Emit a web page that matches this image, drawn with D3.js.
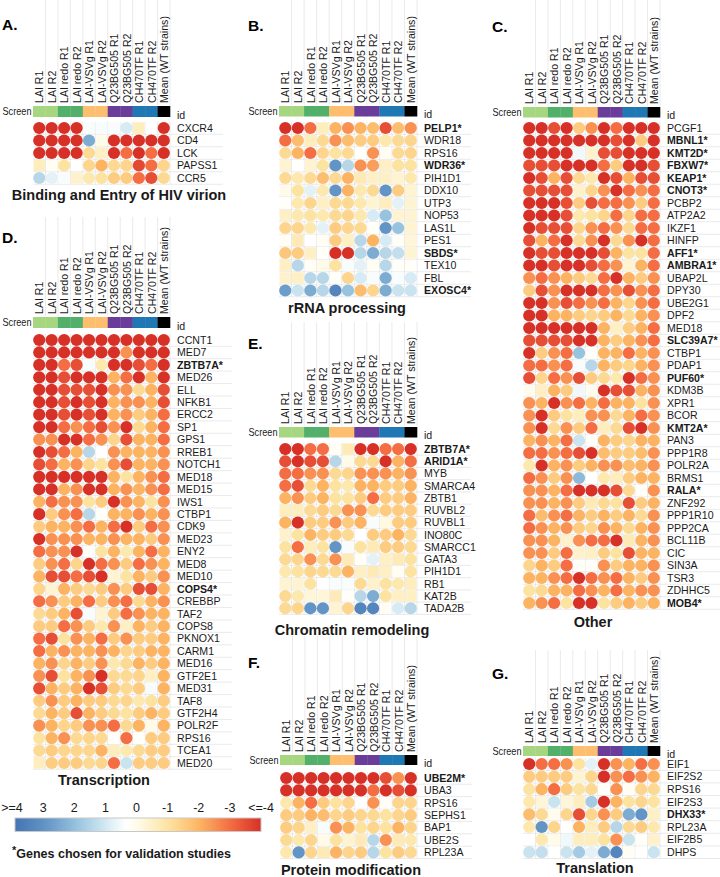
<!DOCTYPE html>
<html>
<head>
<meta charset="utf-8">
<script src="https://cdn.jsdelivr.net/npm/d3@7"></script>
<style>
  body { margin: 0; background: #fff; }
  svg { font-family: "Liberation Sans", Arial, Helvetica, sans-serif; }
</style>
</head>
<body>
<svg id="chart" width="720" height="877"></svg>
<script>
// screens (columns) and their group colours
const columns = ["LAI R1", "LAI R2", "LAI redo R1", "LAI redo R2", "LAI-VSVg R1", "LAI-VSVg R2",
  "Q23BG505 R1", "Q23BG505 R2", "CH470TF R1", "CH470TF R2", "Mean (WT strains)"];
const screenColors = ["#a6d67f", "#a6d67f", "#52b06a", "#52b06a", "#fdbf6f", "#fdbf6f",
  "#6a3d9a", "#6a3d9a", "#1f78b4", "#1f78b4", "#000000"];

// A. Binding and Entry of HIV virion
const genesA = ["CXCR4", "CD4", "LCK", "PAPSS1", "CCR5"];
const valuesA = [
  [-4, -4, -4, -4, 0.5, 0.5, 0.5, 1, -0.6, 0.4, -4],
  [-4, -4, -4, -4, 2.5, 0, -4, -4, -4, -4, -4],
  [-4, -4, -4, -4, -1.2, -0.5, -4, -3, -4, -3, -4],
  [-0.6, 0.2, -1, 0.4, -1.3, -2, -1.2, -1.3, -3.6, -3, -1.3],
  [1.5, 0.8, 0.5, -0.4, -0.8, -1, -1.5, -1.5, -3, -3.5, -1.2]
];

// B. rRNA processing
const genesB = ["PELP1*", "WDR18", "RPS16", "WDR36*", "PIH1D1", "DDX10", "UTP3", "NOP53",
  "LAS1L", "PES1", "SBDS*", "TEX10", "FBL", "EXOSC4*"];
const valuesB = [
  [-4, -4, -3, -0.6, -2, -2.5, -2, -1.8, -3.5, -1.8, -2.5],
  [-3, -1.8, -0.6, -1.2, -2.5, -1.8, -1.5, -1.5, -0.8, -1.2, -1.3],
  [-1.2, -2, -3, -1.3, -1, -1.2, 0.3, -2.5, 0.2, -1.2, -1.3],
  [-0.3, 0.4, -0.3, -1, 3, 1.5, -2.5, -2.3, -0.5, -1, -1],
  [-1.2, -0.8, -1.2, -1.8, -1.2, -2, -0.7, -0.5, -0.5, -0.3, -0.8],
  [0, -1, 0.8, -0.8, 3, -2, -0.8, -1.2, 3, -1.5, -0.3],
  [0.3, -0.8, -1.3, -0.5, -1.2, -1.2, -0.8, -0.3, -0.6, 0.8, -0.3],
  [-0.5, -0.8, -1, -0.8, -1.2, -1.3, -0.8, 1, 2, -0.3, -0.3],
  [-1.3, -1.3, -0.8, 0.8, -1.5, -1.3, -1.2, 0.3, 3, 2, -0.3],
  [0.2, -0.7, 0.4, 0.2, -1.5, -0.5, 1.5, -2, 1, 0.3, -0.2],
  [-1.6, -1.5, -0.5, 0.3, -4, -4, 1.5, 2.5, 1.5, 1.3, -0.3],
  [-0.5, 1.5, 0.2, 0, -1, 0.5, 0.8, 0.2, 1.5, 0.3, 0.3],
  [-0.4, -0.5, 1.5, 1.5, 0.3, -1.3, 1, 0.5, 2.5, 0.5, 1],
  [2.8, 1.2, 2.5, 1.5, 3.5, 2, -1.8, -1.3, 2.5, 1.2, 1.2]
];

// C. Other
const genesC = ["PCGF1", "MBNL1*", "KMT2D*", "FBXW7*", "KEAP1*", "CNOT3*", "PCBP2", "ATP2A2",
  "IKZF1", "HINFP", "AFF1*", "AMBRA1*", "UBAP2L", "DPY30", "UBE2G1", "DPF2", "MED18",
  "SLC39A7*", "CTBP1", "PDAP1", "PUF60*", "KDM3B", "XPR1", "BCOR", "KMT2A*", "PAN3",
  "PPP1R8", "POLR2A", "BRMS1", "RALA*", "ZNF292", "PPP1R10", "PPP2CA", "BCL11B", "CIC",
  "SIN3A", "TSR3", "ZDHHC5", "MOB4*"];
const valuesC = [
  [-4, -4, -3.5, -4, -1.5, -2.5, -4, -3, -4, -4, -4],
  [-4, -4, -4, -4, -4, -4, -4, -3.5, -4, -1.5, -4],
  [-4, -4, -4, -4, 0.6, -0.4, -3.5, -3.5, -4, -4, -4],
  [-3.5, -3.5, -3.5, -4, -4, -4, -3, -1.5, -4, -4, -3.5],
  [-4, -3.5, -2, -3.5, -1.2, -0.8, -4, -3.5, -2, -3.5, -3.5],
  [-3.5, -3.5, -3.5, -3.5, -0.4, -1.3, -2.5, -4, -3, -2.5, -3],
  [-4, -4, -4, -3.5, -1.5, -3.5, -3, -3, -2.5, -1.5, -3],
  [-4, -4, -4, -3.5, -0.8, -1, -1.3, -3, -1.3, -3, -3],
  [-4, -3.5, -3.5, -3.5, -1.3, -2.5, -3, -2.5, -1.2, -3, -3],
  [-3.5, -2, -3, -4, -1.2, -2.5, -4, -1.2, -2.5, -4, -3],
  [-4, -3.5, -3.5, -4, -4, -4, -3.5, -2, -1, -1, -3],
  [-4, -4, -3.5, -4, -4, -3.5, -3, -2.5, -0.3, -2, -3],
  [-2.5, -3, -2.5, -2, -1.5, -1.2, -3, -4, -2, -1.5, -2.5],
  [-1.5, -3.5, -2.5, -4, -4, -4, -3, -2.5, -3.5, -2.5, -3],
  [-4, -4, -2.5, -3.5, -3, -2.5, -3, -2, -1.3, -2.5, -3],
  [-4, -4, -2, -2, -1.5, -1.3, -1.5, -2, -1.2, -2, -2.5],
  [-4, -4, -4, -4, -4, -4, -2, -0.5, -1.5, -2, -3],
  [-3.5, -3.5, -3.5, -3.5, -4, -4, -2, -1.5, -2, -2.5, -3],
  [-4, -1.5, -2.5, -3, 2, 0.3, -2, -2, -3, -2, -2.5],
  [-3, -3, -2.5, -3, 0.5, 1.5, -2, -1.5, -1.3, -2, -2.5],
  [-3.5, -1.3, -3, -2.5, -3.5, -1.5, -1.2, -0.8, -4, -3, -2.5],
  [0.1, -0.5, -2, -1.5, 0.6, 0.1, -4, -3.5, -3.5, -2, -2.5],
  [-2.5, -2, -4, -2.5, -3, -2, -3, -2, -2, -1, -2.5],
  [-2.5, -4, -1.5, -1, -0.6, -2.5, -2.5, -1.2, -2, -3, -2.5],
  [-2.5, -4, -1.2, -2.5, -1.5, -3, -0.6, -1.2, -3.5, -4, -2.5],
  [-2, -2.5, -2, -3, 1.2, 0.3, -2, -1.5, -1.3, -2, -2],
  [-3, -3, -2.5, -3, -3.5, -4, -1.8, -1.5, -1.5, -1.8, -2.5],
  [-0.8, -4, -2, -2.5, -1.5, -2, -2.5, -2.5, -1.8, -2, -2.5],
  [-3, -2.5, -1.5, -2.5, 2.2, 0.4, -0.8, -0.6, -1.5, -2, -2],
  [-2.5, -2.5, -2, -3, -4, -4, -4, -3.5, -1.2, 0.3, -2.5],
  [-2.5, -2.5, -2, -2.5, -1.5, -0.7, -1.2, -1, -3.5, -1.5, -2],
  [-3, -1.8, -2.5, -3, -2, -1.5, -2, -1.5, -2, -1.2, -2.5],
  [-3, -2.5, -2, -2.5, -1.5, -1.3, -2.5, -2, -1.2, -2, -2.5],
  [-2.5, -2.5, -2, -0.4, -2.5, -3, -3, -4, -0.7, -2, -2.5],
  [-2.5, -2.5, -1.5, -3, -0.4, -0.5, -1.5, -1, -3.5, -2, -2],
  [-1.3, -2, -1.5, -3, 0.3, 0.3, -2.5, -1.5, -2, -2, -2.5],
  [-2, -2, -2.5, -3, -4, -3, -2.5, -3, -2, -1.5, -2.5],
  [-1, -1.2, -2, -2, -3, -2.5, -2, -3, -2, -2.5, -2.5],
  [-2, -2.5, -3, -1, -4, -4, -1, -1.5, -2, -1.5, -2]
];

// D. Transcription
const genesD = ["CCNT1", "MED7", "ZBTB7A*", "MED26", "ELL", "NFKB1", "ERCC2", "SP1", "GPS1",
  "RREB1", "NOTCH1", "MED18", "MED15", "IWS1", "CTBP1", "CDK9", "MED23", "ENY2", "MED8",
  "MED10", "COPS4*", "CREBBP", "TAF2", "COPS8", "PKNOX1", "CARM1", "MED16", "GTF2E1",
  "MED31", "TAF8", "GTF2H4", "POLR2F", "RPS16", "TCEA1", "MED20"];
const valuesD = [
  [-4, -4, -4, -4, -4, -4, -4, -4, -4, -4, -4],
  [-4, -4, -4, -4, -4, -4, -4, -2.5, -4, -4, -4],
  [-4, -4, -3, -3.5, 0.5, -0.8, -4, -4, -3.5, -3, -4],
  [-4, -4, -3.5, -4, -4, -4, -2, -3, -4, -2, -4],
  [-4, -4, -3.5, -3.5, -3.5, -4, -2.5, -2.5, -1.2, -2, -3.5],
  [-4, -4, -3.5, -4, -3.5, -4, -2, -2.5, -2.5, -2, -3.5],
  [-4, -4, -3.5, -4, -3.5, -4, -2, -2.5, -1.5, -2, -3],
  [-4, -4, -3, -2.5, -3, -3.5, -2.5, -4, -1.2, -2, -3],
  [-2.5, -2.5, -4, -4, -3, -2.5, -1.3, -3.5, -2, -2, -3],
  [-4, -3.5, -3, -2, 1.5, 0.4, -2.5, -2, -2, -2, -2.5],
  [-3.5, -3, -2, -2.5, -1.3, -1, -2.5, -3.5, -2, -2, -2.5],
  [-4, -4, -4, -4, -4, -4, -2, -1, -2, -2.5, -3],
  [-4, -4, -2, -2.5, -4, -4, -2, -2.5, -2, -2.5, -3],
  [-2, -3, -2.5, -2.5, -1, -1.5, -4, -2.5, -2, -1, -2.5],
  [-4, -1.5, -2.5, -3, 1.5, 0.3, -2, -2, -2.5, -2, -2.5],
  [-1.5, -2, -2, -2.5, -3, -2, -3, -4, -1.5, -3, -2.5],
  [-4, -2.5, -2.5, -2.5, -2, -2, -2.5, -2, -2, -1.5, -2.5],
  [-3, -2.5, -2.5, -4, 0.3, -1, -2, -0.8, -2, -3, -2],
  [-1.5, -2.5, -3, -1.3, -4, -3, -2.5, -1.5, -3, -2.5, -2],
  [-2, -3.5, -3.5, -3, -3.5, -4, -0.3, -1, -2, -1.5, -2.5],
  [-1.3, -0.3, -2, -1.5, -1.2, -1.5, -2.5, -1.5, -3.5, -3.5, -2],
  [-3, -2.5, -1.5, -2, -3, -1.5, -2.5, -3, -1.2, -2, -2.5],
  [-1.2, -1.5, -2, -3.5, 0.5, -0.3, -1.5, -3, -2.5, -2, -2],
  [-1.5, -1.5, -3, -2.5, -1.5, -0.8, -2.5, -0.5, -2, -1.5, -2],
  [-3, -3.5, -1, -2.5, -2, -3, -1.5, -2.5, -1.5, -1.5, -2],
  [-3, -2, -2.5, -2, -2, -2.5, -2, -1.3, -1.5, -2, -2],
  [-2, -2.5, -1.3, -2, -1.5, -2.5, -0.8, -1.2, -2, -1.5, -2],
  [-2.5, -3.5, -1, -2, -2.5, -4, -1.2, -1.2, -1.3, -0.5, -2],
  [-3.5, -2, -1.5, -2, -4, -3.5, -1.5, -1.2, -1.5, 0.5, -2],
  [-1.5, -2.5, -1.5, -2, -1.5, -1.5, -1.2, -1.3, -0.8, -1, -1.5],
  [-1.2, -2, -1.5, -3.5, -2, -1.5, -1.2, -1, -1.5, -2, -1.5],
  [-2.5, -2, -1.3, -1.5, -2.5, -2.5, -3, -1.2, -2, 0, -2],
  [-1, -2, -2.5, -1.2, -1.3, -1.2, 0.3, -3, 0.3, -1.5, -1.5],
  [-1.2, -1.5, -1.3, -1.3, -1.3, -2, -0.6, -0.8, -1.2, -1.5, -1.5],
  [-0.6, -1.5, -1.5, -1.5, -1.2, -1.3, -3, 1.2, -1.5, -1.5, -1.5]
];

// E. Chromatin remodeling
const genesE = ["ZBTB7A*", "ARID1A*", "MYB", "SMARCA4", "ZBTB1", "RUVBL2", "RUVBL1", "INO80C",
  "SMARCC1", "GATA3", "PIH1D1", "RB1", "KAT2B", "TADA2B"];
const valuesE = [
  [-4, -4, -3, -3, 0.2, -0.7, -4, -4, -3, -3, -4],
  [-3.5, -4, -3.5, -3.5, 1.5, 0, -1.2, -1.2, -4, -2, -3],
  [-3, -3, -2.5, -2.5, -1.2, -1.3, -2.5, -2.5, -2.5, -2, -2.5],
  [-3, -3.5, -1.2, -2, -1, -0.8, -2, -2, -1.5, -1.5, -2],
  [-2, -2.5, -1.5, -2, -1, -1, -1.5, -3, -1.5, -1.5, -2],
  [-0.6, -0.6, -1.2, -1.5, -1.2, -2.5, -2.5, -1.2, -1.5, -1.5, -1.5],
  [-2, -4, -1.5, -1.5, -2.5, -1.5, -2, 0.5, -0.1, -1.5, -1.5],
  [-0.4, -1, -2, -1.5, -1.5, -1.2, 0.4, -1.5, -1.5, -2, -1.2],
  [-1, -3, -0.6, -1, 3, 0.5, -1, -0.7, -1.5, -1.5, -1.2],
  [-1.2, -1.3, -2.5, -1.2, -2.5, -0.7, 0.3, 0.8, -0.5, -0.7, -1],
  [-0.8, -1, -1.3, -1.2, -1.2, -2, -0.5, -0.7, -0.5, 0.2, -1],
  [-0.3, -0.3, -1, 0.4, 0.5, 0.5, -1.2, -0.4, -1, -0.8, -0.6],
  [-1.2, -0.8, -0.2, -0.2, -0.7, 0.3, 1.5, 2.5, -1, -0.5, -0.5],
  [-1.2, -1.3, 3, 3, -0.3, -1.3, 3.5, 3.5, 0.2, 1, 1.5]
];

// F. Protein modification
const genesF = ["UBE2M*", "UBA3", "RPS16", "SEPHS1", "BAP1", "UBE2S", "RPL23A"];
const valuesF = [
  [-4, -4, -4, -4, -4, -4, -4, -4, -3.5, -2.5, -4],
  [-4, -4, -4, -4, -4, -4, -4, -3, -4, -3.5, -4],
  [-0.8, -2, -3, -1.5, -1, -1.3, 0.4, -2.5, 0.3, -1.3, -1.3],
  [-1.5, -1.5, -2, -1.8, -1.3, -1.5, -1.3, -1.2, -1, -1.3, -1.5],
  [-1.5, -1.3, -0.5, 0.5, -2.5, -2, -1, -1.3, -1, -2, -1.3],
  [-1.2, -0.8, -1.3, 0, -1, -0.3, -0.7, 1.5, -2.5, -0.7, -0.8],
  [-0.8, 3, -1.3, -0.7, -2, -1.3, -1.5, 1.5, -1, -1.5, -1.2]
];

// G. Translation
const genesG = ["EIF1", "EIF2S2", "RPS16", "EIF2S3", "DHX33*", "RPL23A", "EIF2B5", "DHPS"];
const valuesG = [
  [-4, -3, -3, -2.5, -1, 0.8, -4, -2.5, -2, -3, -2.5],
  [-1.5, -1.5, -1.5, -1.5, -0.3, -1.3, -4, -2.5, -3, -2.5, -2],
  [-1, -2, -3, -1.5, -1, -1.2, 0.3, -2.5, 0.2, -1.3, -1.2],
  [-0.8, -0.2, 1.2, -0.2, -0.6, 1.8, -4, -2, -1, -1.3, -1],
  [-1.8, -1.2, 0.1, -1.3, -3.5, -1.3, -2.5, -1.5, 2.5, 3, -0.5],
  [-0.8, 3, -1.3, 0.4, -2, -0.6, -1.5, 1.5, -1.2, -1.5, -0.8],
  [0.4, -0.8, 0, 0.6, -0.6, -0.6, -1, -2.5, 1.2, 0.3, -0.4],
  [1.2, 1.3, 0.4, 1.2, 1.8, 0.8, 2.5, 3.5, 0.2, 0.4, 1.2]
];

// colour scale
const colorStops = [4, 3, 2, 1, 0.4, 0, -1, -2, -3, -4];
const colorRange = ["#4575b4", "#6394c6", "#97c3df", "#d6ebf3", "#ffffff", "#fffbe8",
  "#fde3a0", "#fdb462", "#f46d43", "#d73027"];
const legendTicks = [">=4", "3", "2", "1", "0", "-1", "-2", "-3", "<=-4"];

const color = d3.scaleLinear().domain(colorStops).range(colorRange).clamp(true);
const svg = d3.select("#chart");
const gridColor = "#e4e4e4";

const panels = [
  { letter: "A.", genes: genesA, values: valuesA, title: "Binding and Entry of HIV virion",
    x0: 33, x1: 170, barTop: 106, barH: 11, rowTop: 121.75, rowH: 12.5, lineTop: 0, lineEnd: 223,
    letterPos: [2, 24], titlePos: [119, 195] },
  { letter: "B.", genes: genesB, values: valuesB, title: "rRNA processing",
    x0: 279, x1: 417, barTop: 106, barH: 10.5, rowTop: 121.75, rowH: 12.5, lineTop: 0, lineEnd: 471,
    letterPos: [248, 25], titlePos: [347, 308] },
  { letter: "C.", genes: genesC, values: valuesC, title: "Other",
    x0: 523, x1: 660, barTop: 107, barH: 10.5, rowTop: 121.75, rowH: 12.5, lineTop: 0, lineEnd: 720,
    letterPos: [492, 26], titlePos: [593, 622] },
  { letter: "D.", genes: genesD, values: valuesD, title: "Transcription",
    x0: 33, x1: 170, barTop: 317, barH: 11, rowTop: 333.8, rowH: 12.44, lineTop: 217, lineEnd: 232,
    letterPos: [2, 237], titlePos: [104, 780] },
  { letter: "E.", genes: genesE, values: valuesE, title: "Chromatin remodeling",
    x0: 279, x1: 417, barTop: 427, barH: 10.5, rowTop: 442.9, rowH: 12.25, lineTop: 322, lineEnd: 471,
    letterPos: [248, 343], titlePos: [352, 630] },
  { letter: "F.", genes: genesF, values: valuesF, title: "Protein modification",
    x0: 280, x1: 417, barTop: 755, barH: 10, rowTop: 771.8, rowH: 12.4, lineTop: 636, lineEnd: 472,
    letterPos: [248, 662], titlePos: [351, 870] },
  { letter: "G.", genes: genesG, values: valuesG, title: "Translation",
    x0: 523, x1: 660, barTop: 746, barH: 10, rowTop: 757.7, rowH: 12.6, lineTop: 650, lineEnd: 720,
    letterPos: [492, 673], titlePos: [595, 868] }
];

function drawPanel(p) {
  const g = svg.append("g");
  const x = d3.scaleBand().domain(columns).range([p.x0, p.x1]);
  const y = d3.scaleBand().domain(p.genes).range([p.rowTop, p.rowTop + p.genes.length * p.rowH]);
  const bw = x.bandwidth(), bh = y.bandwidth();
  const yEnd = p.rowTop + p.genes.length * p.rowH;
  const labelX = p.x1 + 7;

  // vertical lines above the column labels
  g.selectAll(".hline").data(columns).join("line")
    .attr("x1", d => x(d) + bw).attr("x2", d => x(d) + bw)
    .attr("y1", p.lineTop).attr("y2", p.barTop - 1)
    .attr("stroke", gridColor).attr("stroke-width", 0.8);

  // grid in heatmap
  g.selectAll(".vgrid").data(columns).join("line")
    .attr("x1", d => x(d) + bw).attr("x2", d => x(d) + bw)
    .attr("y1", p.rowTop).attr("y2", yEnd)
    .attr("stroke", gridColor).attr("stroke-width", 0.8);
  g.selectAll(".rgrid").data(p.genes).join("line")
    .attr("x1", p.x0).attr("x2", p.lineEnd)
    .attr("y1", d => y(d) + bh).attr("y2", d => y(d) + bh)
    .attr("stroke", gridColor).attr("stroke-width", 0.8);

  // column labels
  g.selectAll(".clab").data(columns).join("text")
    .attr("transform", d => `translate(${x(d) + bw / 2 + 0.5},${p.barTop - 3}) rotate(-90)`)
    .attr("dy", "0.35em")
    .attr("font-size", 10.6)
    .attr("fill", "#1a1a1a")
    .text(d => d);

  // screen bar
  g.selectAll(".bar").data(columns).join("rect")
    .attr("x", d => x(d)).attr("width", bw + 0.3)
    .attr("y", p.barTop).attr("height", p.barH)
    .attr("fill", (d, i) => screenColors[i]);
  g.append("text").attr("x", p.x0 - 1.5).attr("y", p.barTop + p.barH / 2)
    .attr("dy", "0.35em").attr("text-anchor", "end").attr("font-size", 10.6)
    .attr("textLength", 29).attr("lengthAdjust", "spacingAndGlyphs")
    .attr("fill", "#1a1a1a").text("Screen");
  g.append("text").attr("x", labelX).attr("y", p.barTop + p.barH + 1.5)
    .attr("font-size", 10.6).attr("fill", "#1a1a1a").text("id");

  // cells
  const cells = [];
  p.genes.forEach((gene, i) => columns.forEach((c, j) => cells.push({ gene, col: c, v: p.values[i][j] })));
  const sig = cells.filter(d => Math.abs(d.v) > 0.7);
  const ns = cells.filter(d => Math.abs(d.v) <= 0.7);
  const sq = 11.4;
  g.selectAll(".sq").data(ns).join("rect")
    .attr("x", d => x(d.col) + bw / 2 - sq / 2).attr("y", d => y(d.gene) + bh / 2 - sq / 2)
    .attr("width", sq).attr("height", sq)
    .attr("fill", d => color(d.v));
  g.selectAll(".dot").data(sig).join("circle")
    .attr("cx", d => x(d.col) + bw / 2).attr("cy", d => y(d.gene) + bh / 2)
    .attr("r", 6.1)
    .attr("fill", d => color(d.v));

  // gene labels
  g.selectAll(".glab").data(p.genes).join("text")
    .attr("x", labelX).attr("y", d => y(d) + bh / 2)
    .attr("dy", "0.36em").attr("font-size", 10.6)
    .attr("font-weight", d => d.endsWith("*") ? "bold" : "normal")
    .attr("fill", "#1a1a1a")
    .text(d => d);

  // panel letter and title
  g.append("text").attr("x", p.letterPos[0]).attr("y", p.letterPos[1])
    .attr("dy", "0.36em").attr("font-size", 15.5).attr("font-weight", "bold").text(p.letter);
  g.append("text").attr("x", p.titlePos[0]).attr("y", p.titlePos[1])
    .attr("dy", "0.36em").attr("text-anchor", "middle")
    .attr("font-size", 14.5).attr("font-weight", "bold").attr("fill", "#1a1a1a").text(p.title);
}

panels.forEach(drawPanel);

// legend
const lg = svg.append("g");
const defs = svg.append("defs");
const grad = defs.append("linearGradient").attr("id", "legGrad");
d3.range(0, 1.0001, 0.05).forEach(t => {
  grad.append("stop").attr("offset", t).attr("stop-color", color(4 - 8 * t));
});
lg.append("rect").attr("x", 15).attr("y", 818).attr("width", 246).attr("height", 13.5)
  .attr("fill", "url(#legGrad)").attr("stroke", "#c8c8c8").attr("stroke-width", 1);
const lx = d3.scalePoint().domain(legendTicks).range([12, 261]);
lg.selectAll(".lt").data(legendTicks).join("text")
  .attr("x", d => lx(d)).attr("y", 807).attr("dy", "0.36em")
  .attr("text-anchor", "middle").attr("font-size", 12.5).attr("fill", "#1a1a1a")
  .text(d => d);

const foot = lg.append("text").attr("x", 12).attr("y", 858)
  .attr("font-size", 12.5).attr("font-weight", "bold").attr("fill", "#1a1a1a");
foot.append("tspan").attr("font-size", 11).attr("dy", -4).text("*");
foot.append("tspan").attr("dy", 4).text("Genes chosen for validation studies");
</script>
</body>
</html>
